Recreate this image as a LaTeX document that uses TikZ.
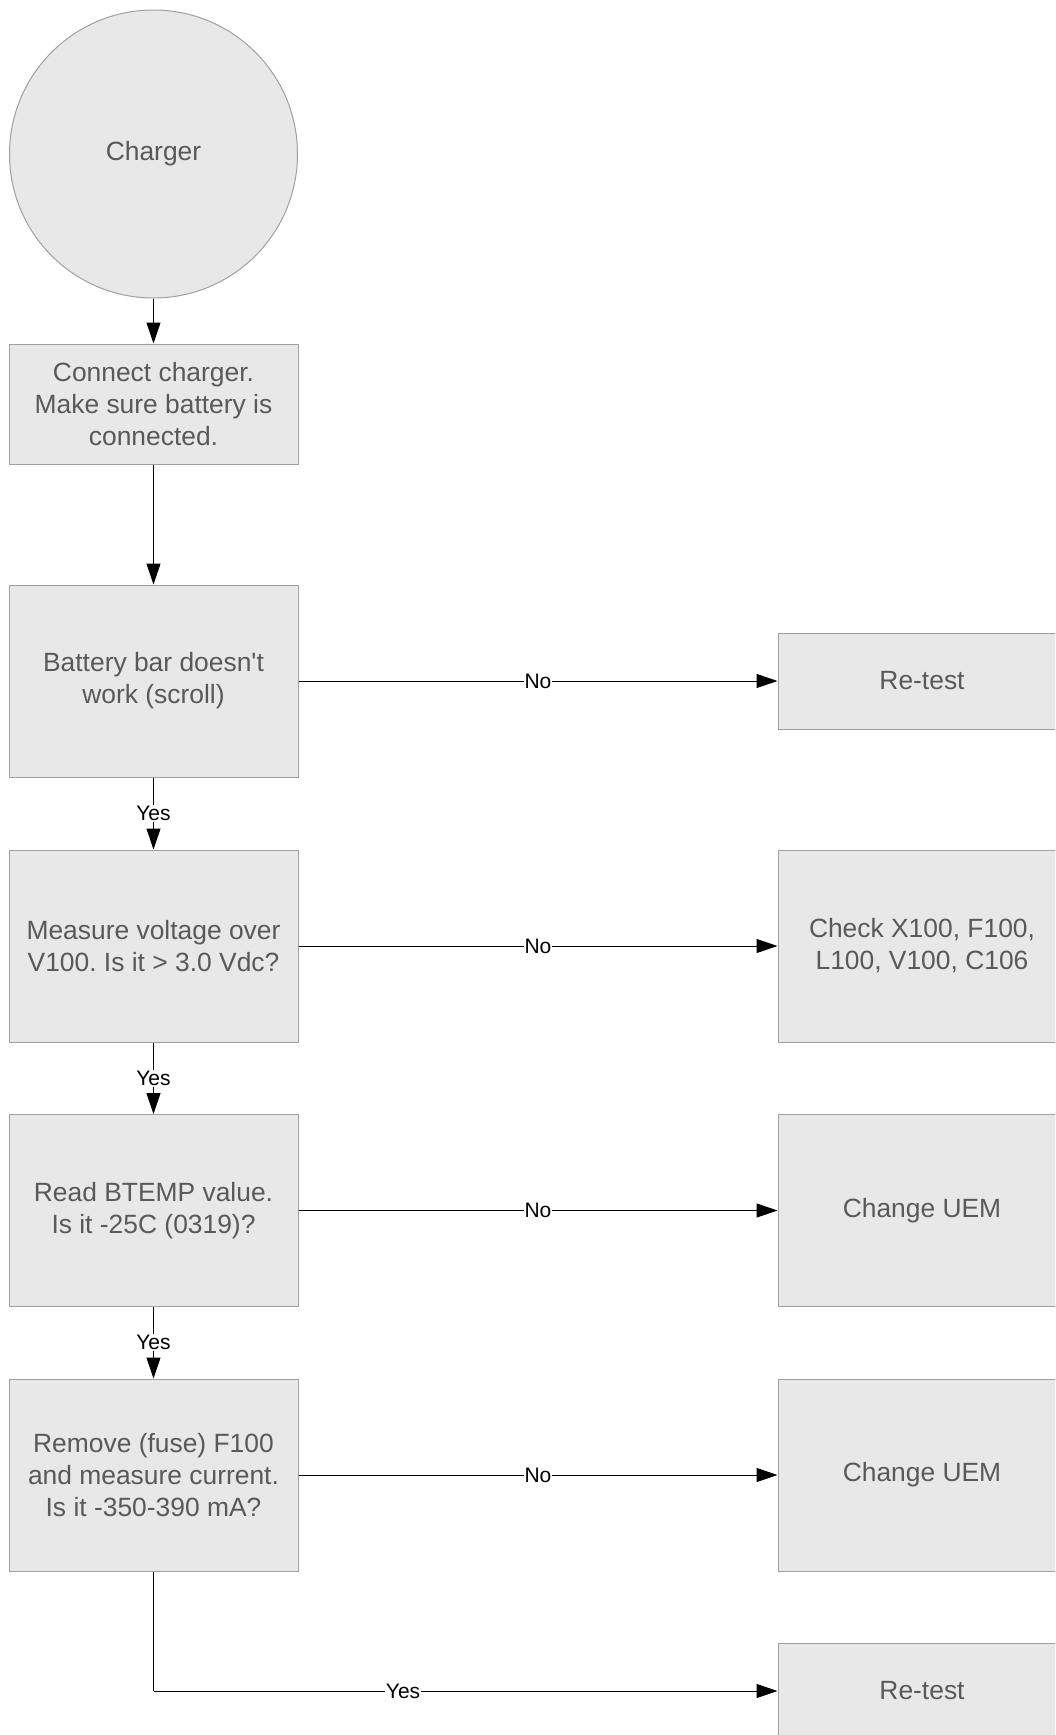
\documentclass[tikz,border=0pt]{standalone}
\usepackage{fontspec}
\setmainfont{Liberation Sans}
\usetikzlibrary{arrows.meta}
\definecolor{boxfill}{HTML}{E8E8E8}
\definecolor{boxline}{HTML}{A0A0A0}
\definecolor{boxtext}{HTML}{595959}
\frenchspacing
\begin{document}
\begin{tikzpicture}[x=0.5pt,y=-0.5pt,
  box/.style={draw=boxline,fill=boxfill,line width=0.5pt,text=boxtext,align=center,
    font=\fontsize{13.2}{16}\selectfont,inner sep=0pt,minimum width=144.5pt},
  circ/.style={circle,draw=boxline,fill=boxfill,line width=0.5pt,text=boxtext,
    font=\fontsize{13.2}{16}\selectfont,minimum size=144pt,inner sep=0pt},
  conn/.style={draw=black,line width=0.5pt,-{Triangle[length=10.5pt,width=7pt]}},
  lbl/.style={fill=white,font=\fontsize{10.5}{12}\selectfont,inner sep=0.5pt,text=black}]
\useasboundingbox (0,0) rectangle (1055,1735);
\clip (0,0) rectangle (1055,1735);
\node[circ] (charger) at (153.5,154) {Charger};
\node[box,minimum height=60pt] (connect) at (153.5,404) {Connect charger.\\Make sure battery is\\connected.};
\node[box,minimum height=96pt] (battery) at (153.5,681) {Battery bar doesn\textquotesingle t\\work (scroll)};
\node[box,minimum height=96pt] (measure) at (153.5,946) {Measure voltage over\\V100. Is it > 3.0 Vdc?};
\node[box,minimum height=96pt] (read) at (153.5,1210.5) {Read BTEMP value.\\Is it -25C (0319)?};
\node[box,minimum height=96pt] (remove) at (153.5,1475) {Remove (fuse) F100\\and measure current.\\Is it -350-390 mA?};
\node[box,minimum width=144pt,minimum height=48pt] (retest1) at (922,681) {Re-test};
\node[box,minimum width=144pt,minimum height=96pt] (check) at (922,946) {Check X100, F100,\\L100, V100, C106};
\node[box,minimum width=144pt,minimum height=96pt] (uem1) at (922,1210.5) {Change UEM};
\node[box,minimum width=144pt,minimum height=96pt] (uem2) at (922,1475) {Change UEM};
\node[box,minimum width=144pt,minimum height=48pt] (retest2) at (922,1691) {Re-test};
\draw[conn] (charger) -- (connect);
\draw[conn] (connect) -- (battery);
\draw[conn] (battery) -- node[lbl] {Yes} (measure);
\draw[conn] (measure) -- node[lbl] {Yes} (read);
\draw[conn] (read) -- node[lbl] {Yes} (remove);
\draw[conn] (battery) -- node[lbl] {No} (retest1);
\draw[conn] (measure) -- node[lbl] {No} (check);
\draw[conn] (read) -- node[lbl] {No} (uem1);
\draw[conn] (remove) -- node[lbl] {No} (uem2);
\coordinate (corner) at (remove.south |- retest2.west);
\draw[draw=black,line width=0.5pt] (remove.south) -- (corner);
\draw[conn] (corner) -- node[lbl,pos=0.4] {Yes} (retest2);
\end{tikzpicture}
\end{document}
